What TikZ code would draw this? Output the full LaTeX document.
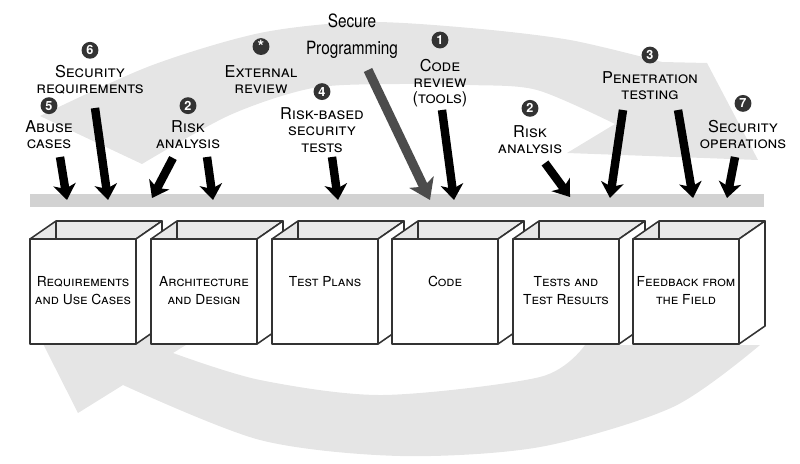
\documentclass[tikz,border=0pt]{standalone}
\usepackage{fontspec}
\setmainfont{TeX Gyre Heros}
\newfontfamily\condfont[FakeStretch=0.84]{TeX Gyre Heros}
\usetikzlibrary{positioning,arrows.meta}
\tikzset{band/.style={fill=gray!20}}
\tikzset{railbar/.style={fill=gray!35}}
\tikzset{boxline/.style={draw=black!80, line width=1.1pt, line join=round}}
\tikzset{stagefront/.style={boxline, fill=white, minimum width=2.65cm, minimum height=2.625cm, inner sep=0pt}}
\tikzset{stagetext/.style={align=center, font=\fontsize{9.8}{12.8}\selectfont\scshape, inner sep=0pt}}
\tikzset{numdot/.style={circle, fill=black!80, text=white, font=\fontsize{9}{9}\selectfont\bfseries, inner sep=0pt, minimum size=12pt}}
\tikzset{lbl/.style={align=center, font=\fontsize{11.6}{11.6}\selectfont\scshape, inner sep=1pt}}
\tikzset{arrblk/.style={draw=black, line width=6pt, -{Stealth[length=11pt, width=16pt, inset=3pt]}}}
\tikzset{arrsec/.style={draw=black!70, line width=6.6pt, -{Stealth[length=14pt, width=19pt, inset=3.5pt]}}}

\begin{document}
\begin{tikzpicture}[x=0.025cm, y=-0.025cm]
	\useasboundingbox (0,0) rectangle (800,464);
	% the two sweeping loop arrows
	\fill[band] plot[smooth] coordinates {(40,116) (150,66) (260,33) (363,22) (470,28) (570,40) (662,62)}
		-- (707,63) -- (758,160) -- (567,153)
		-- plot[smooth] coordinates {(615,124) (537,90) (470,85) (400,84) (313,88) (230,115) (142,164)} -- cycle;
	\fill[band] plot[smooth] coordinates {(760,345) (673,407) (540,447) (400,456) (260,440) (123,385)}
		-- (78,413) -- (32,322) -- (218,325)
		-- plot[smooth] coordinates {(173,353) (260,380) (383,395) (540,377) (585,345)} -- cycle;
	% rail
	\fill[railbar] (30,194) rectangle (764,207);
	% stages
	\foreach \i/\x/\txt in {1/30/{Requirements\\and Use Cases}, 2/151/{Architecture\\and Design}, 3/272/{Test Plans}, 4/392/{Code}, 5/513/{Tests and\\Test Results}, 6/633/{Feedback from\\the Field}}{
		\filldraw[boxline, fill=gray!18] (\x,239) -- (\x+26,221) -- (\x+132,221) -- (\x+106,239) -- cycle;
		\draw[boxline] (\x+26,221) -- (\x+26,239);
		\filldraw[boxline, fill=white] (\x+106,239) -- (\x+132,221) -- (\x+132,326) -- (\x+106,344) -- cycle;
		\node[stagefront] (stage\i) at (\x+53,291.5) {};
		\node[stagetext, anchor=north] (stage\i-txt) at (\x+53,276) {\txt};
	}
	% touchpoint labels
	\node[lbl] (abuse) at (49,134.5) {Abuse\\cases};
	\node[numdot, above=3pt of abuse] (n5) {5};
	\node[lbl] (secreq) at (90,79.5) {Security\\requirements};
	\node[numdot, above=3pt of secreq] (n6) {6};
	\node[lbl] (riska) at (188,134.5) {Risk\\analysis};
	\node[numdot, above=3pt of riska] (n2a) {2};
	\node[lbl] (extrev) at (261,79.5) {External\\review};
	\node[numdot, above=6pt of extrev, font=\fontsize{12}{12}\selectfont\bfseries] (nx) {\raisebox{-4.3pt}[0pt][0pt]{*}};
	\node[lbl] (rbtests) at (322,130) {Risk-based\\security\\tests};
	\node[numdot, above=4pt of rbtests] (n4) {4};
	\node[font=\condfont\fontsize{13}{19}\selectfont, align=center] (secprog) at (352,36) {Secure\\Programming};
	\node[lbl] (codrev) at (440,83) {Code\\review\\(tools)};
	\node[numdot, above=6pt of codrev] (n1) {1};
	\node[lbl] (riskb) at (530,140) {Risk\\analysis};
	\node[numdot, above=5pt of riskb] (n2b) {2};
	\node[lbl] (pentest) at (650,86) {Penetration\\testing};
	\node[numdot, above=4.5pt of pentest] (n3) {3};
	\node[lbl] (secops) at (743,134.5) {Security\\operations};
	\node[numdot, above=4.5pt of secops] (n7) {7};
	% arrow ends
	\coordinate (abuse-s) at (60,157);   \coordinate (abuse-e) at (67,200);
	\coordinate (secreq-s) at (95,108);  \coordinate (secreq-e) at (108,200);
	\coordinate (riska-s1) at (173,158); \coordinate (riska-e1) at (152,198);
	\coordinate (riska-s2) at (207,157); \coordinate (riska-e2) at (213,200);
	\coordinate (rbtests-s) at (332,157); \coordinate (rbtests-e) at (338,200);
	\coordinate (secprog-s) at (368,70); \coordinate (secprog-e) at (430,200);
	\coordinate (codrev-s) at (442,110); \coordinate (codrev-e) at (454,200);
	\coordinate (riskb-s) at (545,163);  \coordinate (riskb-e) at (570,197);
	\coordinate (pentest-s1) at (623,110); \coordinate (pentest-e1) at (610,198);
	\coordinate (pentest-s2) at (678,110); \coordinate (pentest-e2) at (693,198);
	\coordinate (secops-s) at (735,157); \coordinate (secops-e) at (727,198);
	\draw[arrblk] (abuse-s) -- (abuse-e);
	\draw[arrblk] (secreq-s) -- (secreq-e);
	\draw[arrblk] (riska-s1) -- (riska-e1);
	\draw[arrblk] (riska-s2) -- (riska-e2);
	\draw[arrblk] (rbtests-s) -- (rbtests-e);
	\draw[arrsec] (secprog-s) -- (secprog-e);
	\draw[arrblk] (codrev-s) -- (codrev-e);
	\draw[arrblk] (riskb-s) -- (riskb-e);
	\draw[arrblk] (pentest-s1) -- (pentest-e1);
	\draw[arrblk] (pentest-s2) -- (pentest-e2);
	\draw[arrblk] (secops-s) -- (secops-e);
\end{tikzpicture}
\end{document}
